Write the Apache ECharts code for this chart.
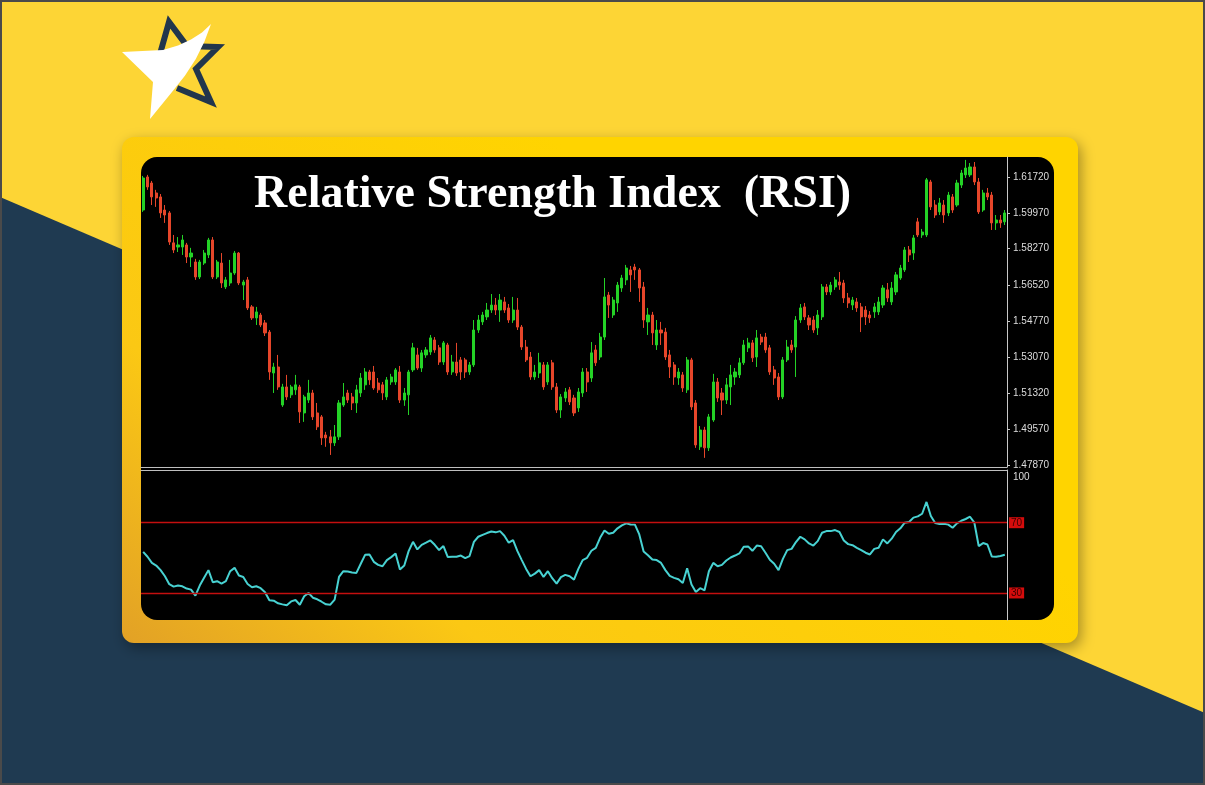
<!DOCTYPE html>
<html><head><meta charset="utf-8">
<script src="https://cdn.jsdelivr.net/npm/echarts@6.0.0/dist/echarts.min.js"></script>
<style>html,body{margin:0;padding:0;background:#fff;}#c{width:1205px;height:785px;}</style>
</head><body><div id="c"></div>
<script>
const titleText = 'Relative Strength Index  (RSI)';
const priceTicks = [1.4787, 1.4957, 1.5132, 1.5307, 1.5477, 1.5652, 1.5827, 1.5997, 1.6172];
const rsiLevels = [70, 30];
const rsiLabels = [100, 70, 30];
// [open, close, low, high]
const candles = [
[1.6013,1.6167,1.6004,1.6177],[1.6172,1.6124,1.6110,1.6182],[1.6143,1.6076,1.6037,1.6153],[1.6095,1.6071,1.6028,1.6110],[1.6076,1.5999,1.5975,1.6090],
[1.6013,1.5989,1.5951,1.6037],[1.5999,1.5859,1.5845,1.6008],[1.5855,1.5821,1.5806,1.5893],[1.5835,1.5845,1.5811,1.5883],[1.5835,1.5869,1.5797,1.5893],
[1.5845,1.5787,1.5758,1.5855],[1.5787,1.5806,1.5739,1.5831],[1.5763,1.5691,1.5677,1.5778],[1.5691,1.5763,1.5681,1.5773],[1.5758,1.5806,1.5749,1.5821],
[1.5797,1.5869,1.5782,1.5879],[1.5869,1.5691,1.5681,1.5883],[1.5691,1.5763,1.5681,1.5773],[1.5758,1.5662,1.5638,1.5806],[1.5643,1.5677,1.5633,1.5691],
[1.5662,1.5710,1.5648,1.5773],[1.5710,1.5806,1.5701,1.5816],[1.5806,1.5662,1.5652,1.5811],[1.5652,1.5667,1.5580,1.5677],[1.5677,1.5542,1.5532,1.5691],
[1.5547,1.5494,1.5484,1.5556],[1.5494,1.5523,1.5460,1.5547],[1.5508,1.5460,1.5450,1.5518],[1.5470,1.5422,1.5407,1.5484],[1.5426,1.5234,1.5196,1.5436],
[1.5229,1.5258,1.5133,1.5278],[1.5258,1.5162,1.5148,1.5316],[1.5075,1.5162,1.5066,1.5177],[1.5162,1.5114,1.5099,1.5220],[1.5124,1.5162,1.5109,1.5172],
[1.5148,1.5172,1.5124,1.5220],[1.5162,1.5042,1.4989,1.5172],[1.5037,1.5114,1.4994,1.5124],[1.5099,1.5133,1.5085,1.5196],[1.5133,1.5018,1.5003,1.5148],
[1.5037,1.4970,1.4955,1.5085],[1.5018,1.4917,1.4883,1.5027],[1.4931,1.4917,1.4874,1.4946],[1.4922,1.4893,1.4835,1.4955],[1.4893,1.4922,1.4878,1.4979],
[1.4922,1.5085,1.4907,1.5099],[1.5075,1.5114,1.5066,1.5181],[1.5133,1.5099,1.5085,1.5148],[1.5114,1.5085,1.5051,1.5133],[1.5085,1.5148,1.5037,1.5172],
[1.5133,1.5205,1.5114,1.5229],[1.5172,1.5234,1.5148,1.5253],[1.5234,1.5196,1.5172,1.5244],[1.5234,1.5157,1.5148,1.5263],[1.5181,1.5148,1.5133,1.5205],
[1.5172,1.5133,1.5099,1.5186],[1.5114,1.5196,1.5099,1.5210],[1.5186,1.5210,1.5172,1.5225],[1.5186,1.5244,1.5172,1.5253],[1.5234,1.5099,1.5085,1.5263],
[1.5099,1.5133,1.5071,1.5157],[1.5124,1.5234,1.5027,1.5244],[1.5244,1.5350,1.5234,1.5374],[1.5316,1.5253,1.5244,1.5350],[1.5253,1.5326,1.5234,1.5340],
[1.5316,1.5340,1.5302,1.5354],[1.5330,1.5398,1.5316,1.5412],[1.5388,1.5340,1.5326,1.5402],[1.5350,1.5282,1.5268,1.5364],[1.5282,1.5374,1.5268,1.5383],
[1.5364,1.5234,1.5220,1.5374],[1.5234,1.5282,1.5220,1.5316],[1.5282,1.5229,1.5215,1.5374],[1.5292,1.5234,1.5196,1.5306],[1.5292,1.5234,1.5205,1.5302],
[1.5234,1.5268,1.5220,1.5282],[1.5268,1.5436,1.5258,1.5484],[1.5436,1.5484,1.5422,1.5508],[1.5475,1.5508,1.5460,1.5523],[1.5499,1.5532,1.5484,1.5566],
[1.5532,1.5556,1.5518,1.5609],[1.5556,1.5532,1.5508,1.5590],[1.5532,1.5580,1.5475,1.5609],[1.5571,1.5532,1.5518,1.5595],[1.5542,1.5484,1.5470,1.5561],
[1.5484,1.5532,1.5470,1.5595],[1.5532,1.5450,1.5436,1.5590],[1.5450,1.5354,1.5340,1.5460],[1.5354,1.5292,1.5282,1.5388],[1.5306,1.5210,1.5196,1.5330],
[1.5210,1.5234,1.5196,1.5268],[1.5229,1.5278,1.5205,1.5326],[1.5268,1.5162,1.5148,1.5282],[1.5186,1.5268,1.5172,1.5282],[1.5278,1.5162,1.5148,1.5292],
[1.5162,1.5051,1.5037,1.5181],[1.5051,1.5114,1.5013,1.5128],[1.5109,1.5138,1.5090,1.5157],[1.5148,1.5090,1.5075,1.5162],[1.5109,1.5037,1.5022,1.5124],
[1.5061,1.5138,1.5042,1.5157],[1.5133,1.5234,1.5114,1.5253],[1.5234,1.5186,1.5138,1.5253],[1.5205,1.5326,1.5186,1.5378],[1.5340,1.5278,1.5263,1.5364],
[1.5306,1.5402,1.5292,1.5422],[1.5402,1.5595,1.5388,1.5686],[1.5604,1.5556,1.5494,1.5619],[1.5508,1.5580,1.5494,1.5595],[1.5566,1.5652,1.5523,1.5667],
[1.5638,1.5686,1.5619,1.5701],[1.5677,1.5734,1.5652,1.5749],[1.5725,1.5701,1.5619,1.5744],[1.5739,1.5725,1.5677,1.5754],[1.5725,1.5638,1.5571,1.5734],
[1.5643,1.5484,1.5446,1.5667],[1.5475,1.5508,1.5412,1.5542],[1.5508,1.5422,1.5364,1.5523],[1.5364,1.5436,1.5340,1.5484],[1.5436,1.5422,1.5364,1.5475],
[1.5426,1.5306,1.5292,1.5446],[1.5316,1.5258,1.5205,1.5340],[1.5268,1.5210,1.5172,1.5282],[1.5205,1.5234,1.5172,1.5253],[1.5220,1.5157,1.5138,1.5234],
[1.5148,1.5292,1.5133,1.5306],[1.5292,1.5066,1.5051,1.5302],[1.5085,1.4883,1.4869,1.5099],[1.4874,1.4955,1.4859,1.4974],[1.4955,1.4869,1.4821,1.4970],
[1.4869,1.5018,1.4854,1.5032],[1.5003,1.5186,1.4994,1.5225],[1.5186,1.5109,1.5090,1.5205],[1.5133,1.5099,1.5027,1.5157],[1.5099,1.5172,1.5080,1.5205],
[1.5162,1.5220,1.5075,1.5268],[1.5210,1.5234,1.5172,1.5253],[1.5220,1.5278,1.5205,1.5302],[1.5278,1.5364,1.5268,1.5388],[1.5350,1.5374,1.5330,1.5398],
[1.5374,1.5302,1.5282,1.5388],[1.5306,1.5398,1.5258,1.5436],[1.5402,1.5378,1.5364,1.5417],[1.5402,1.5340,1.5326,1.5422],[1.5350,1.5234,1.5220,1.5364],
[1.5244,1.5205,1.5172,1.5263],[1.5210,1.5114,1.5099,1.5229],[1.5114,1.5292,1.5104,1.5306],[1.5292,1.5354,1.5282,1.5388],[1.5364,1.5340,1.5326,1.5388],
[1.5354,1.5484,1.5210,1.5503],[1.5484,1.5542,1.5470,1.5561],[1.5547,1.5499,1.5484,1.5566],[1.5494,1.5460,1.5436,1.5508],[1.5484,1.5436,1.5422,1.5503],
[1.5446,1.5508,1.5412,1.5532],[1.5499,1.5643,1.5484,1.5657],[1.5643,1.5619,1.5604,1.5657],[1.5619,1.5652,1.5604,1.5667],[1.5643,1.5677,1.5629,1.5691],
[1.5667,1.5652,1.5629,1.5715],[1.5662,1.5590,1.5566,1.5677],[1.5590,1.5566,1.5542,1.5614],[1.5556,1.5580,1.5532,1.5595],[1.5571,1.5542,1.5523,1.5590],
[1.5547,1.5499,1.5426,1.5566],[1.5532,1.5499,1.5460,1.5551],[1.5508,1.5494,1.5470,1.5527],[1.5523,1.5547,1.5494,1.5566],[1.5523,1.5571,1.5508,1.5595],
[1.5556,1.5638,1.5542,1.5652],[1.5629,1.5590,1.5571,1.5662],[1.5571,1.5638,1.5556,1.5667],[1.5619,1.5701,1.5604,1.5715],[1.5686,1.5734,1.5677,1.5749],
[1.5725,1.5821,1.5715,1.5835],[1.5821,1.5797,1.5763,1.5840],[1.5806,1.5879,1.5773,1.5893],[1.5956,1.5893,1.5883,1.5975],[1.5893,1.5907,1.5879,1.5922],
[1.5893,1.6158,1.5883,1.6167],[1.6148,1.6028,1.6013,1.6158],[1.6037,1.5989,1.5975,1.6061],[1.6004,1.6047,1.5989,1.6071],[1.6037,1.5989,1.5951,1.6061],
[1.5999,1.6085,1.5984,1.6100],[1.6076,1.6013,1.5999,1.6090],[1.6037,1.6143,1.6028,1.6158],[1.6133,1.6191,1.6119,1.6206],[1.6182,1.6215,1.6167,1.6254],
[1.6182,1.6220,1.6172,1.6239],[1.6220,1.6148,1.6133,1.6244],[1.6148,1.6004,1.5994,1.6167],[1.6013,1.6095,1.6004,1.6110],[1.6095,1.6076,1.6061,1.6119],
[1.6085,1.5951,1.5917,1.6100],[1.5951,1.5965,1.5917,1.5989],[1.5965,1.5951,1.5927,1.5989],[1.5956,1.5999,1.5941,1.6013]
];
const rsi = [
53.4,50.6,47.1,45.6,43.0,39.5,35.0,33.6,34.2,33.8,
32.5,31.9,28.5,34.2,38.6,43.0,36.1,36.7,35.3,36.7,
42.4,44.3,39.9,39.1,35.1,33.2,33.8,32.7,30.4,25.8,
25.6,24.1,23.5,23.0,25.2,26.0,23.3,28.1,30.0,27.3,
26.4,25.0,23.5,23.3,26.2,39.1,42.4,42.2,41.6,41.4,
46.6,51.7,51.9,47.7,46.0,45.2,48.7,50.4,52.5,43.3,
45.6,53.8,59.1,54.8,57.4,58.6,59.9,57.4,54.4,56.7,
50.4,50.6,50.6,51.3,49.8,51.0,59.1,62.0,63.1,64.1,
65.0,64.5,65.2,62.6,58.6,60.1,53.8,48.7,43.7,39.5,
41.0,43.0,39.1,42.4,38.4,35.3,39.0,40.3,39.5,37.6,
43.7,48.7,50.0,54.0,55.7,61.4,65.6,63.7,64.3,66.8,
68.5,69.6,69.0,68.9,63.3,53.6,51.5,49.0,48.7,47.1,
43.0,39.7,38.6,37.8,35.7,44.1,34.8,30.6,32.7,31.5,
42.4,47.1,45.2,46.0,48.5,50.2,51.3,52.5,56.3,56.5,
54.0,57.0,56.6,52.9,48.9,46.6,43.0,49.4,54.4,55.1,
59.0,62.0,60.5,58.2,57.0,59.5,64.3,65.2,65.2,65.8,
64.7,59.9,57.8,57.2,55.7,54.4,52.9,51.9,55.1,55.7,
60.5,58.2,60.9,64.7,66.8,70.0,70.4,72.9,73.6,75.1,
81.8,73.8,69.8,69.2,69.4,68.9,67.1,69.6,71.1,72.1,
73.4,70.0,56.7,58.4,57.6,50.8,50.6,51.0,51.7
];
const categories = candles.map((_, i) => String(i + 1));

const chart = echarts.init(document.getElementById('c'), null, {renderer: 'canvas'});
const GREEN = '#24d226', RED = '#e6462a';
const labelColor = '#dcdcdc';
const option = {
  animation: false,
  graphic: [
    {type: 'rect', z: -20, shape: {x: 0, y: 0, width: 1205, height: 785}, style: {fill: '#fdd535'}},
    {type: 'polygon', z: -19, shape: {points: [[0, 197], [1205, 713], [1205, 785], [0, 785]]}, style: {fill: '#1f3a51'}},
    {type: 'rect', z: -18, shape: {x: 1, y: 1, width: 1203, height: 783}, style: {fill: 'none', stroke: '#4a4a4a', lineWidth: 2}},
    {type: 'polyline', z: -17, shape: {points: [[160, 54], [169, 22], [187, 46], [218, 47], [196, 69], [211, 102], [177, 88]]},
      style: {stroke: '#22364c', lineWidth: 6, lineJoin: 'miter', fill: 'none'}},
    {type: 'polygon', z: -16, shape: {points: [[122, 52], [163, 50], [178, 45.4], [191, 39.5], [202, 32.4], [211, 24], [204.4, 41.8], [195.8, 59], [184.9, 75.8], [172, 92], [150, 119], [153, 82]]},
      style: {fill: '#ffffff'}},
    {type: 'rect', z: -15, shape: {x: 122, y: 137, width: 956, height: 506, r: 12},
      style: {fill: new echarts.graphic.LinearGradient(0, 1, 0.45, 0, [
        {offset: 0, color: '#e2a126'}, {offset: 0.35, color: '#fbc814'}, {offset: 1, color: '#ffd400'}]),
        shadowBlur: 14, shadowColor: 'rgba(0,0,0,0.35)', shadowOffsetX: 3, shadowOffsetY: 5}},
    {type: 'rect', z: -14, shape: {x: 141, y: 157, width: 913, height: 463, r: 16}, style: {fill: '#000000'}},
    {type: 'text', z: 50, style: {x: 254, y: 195, text: titleText, fill: '#ffffff',
      font: 'bold 46px "Liberation Serif", "DejaVu Serif", serif', textAlign: 'left', textVerticalAlign: 'middle'}}
  ],
  grid: [
    {left: 141, top: 157, width: 866, height: 310, show: false},
    {left: 141, top: 470, width: 866, height: 150, show: false}
  ],
  xAxis: [
    {type: 'category', gridIndex: 0, data: categories, boundaryGap: true,
      axisLine: {show: true, lineStyle: {color: '#bfbfbf', width: 1}}, axisTick: {show: false}, axisLabel: {show: false}, splitLine: {show: false}},
    {type: 'category', gridIndex: 1, data: categories, boundaryGap: true, position: 'top',
      axisLine: {show: true, lineStyle: {color: '#bfbfbf', width: 1}}, axisTick: {show: false}, axisLabel: {show: false}, splitLine: {show: false}}
  ],
  yAxis: [
    {type: 'value', gridIndex: 0, position: 'right', min: 1.4777, max: 1.6268, scale: true,
      axisLine: {show: true, lineStyle: {color: '#c8c8c8', width: 1}},
      axisTick: {show: true, inside: false, length: 3, lineStyle: {color: '#c8c8c8'}, customValues: priceTicks},
      axisLabel: {show: true, customValues: priceTicks, formatter: v => v.toFixed(5), color: labelColor,
        fontSize: 10, fontFamily: '"Liberation Sans", Arial, sans-serif', margin: 6},
      splitLine: {show: false}},
    {type: 'value', gridIndex: 1, position: 'right', min: 14.6, max: 100,
      axisLine: {show: true, lineStyle: {color: '#c8c8c8', width: 1}},
      axisTick: {show: false},
      axisLabel: {show: true, customValues: rsiLabels, margin: 2,
        formatter: v => v === 100 ? '{w|100}' : '{r|' + v + '}',
        rich: {
          w: {color: labelColor, fontSize: 10, fontFamily: '"Liberation Sans", Arial, sans-serif', padding: [15, 0, 0, 4]},
          r: {color: '#3a0000', backgroundColor: '#d40c0c', fontSize: 10, fontFamily: '"Liberation Sans", Arial, sans-serif', padding: [1, 2, 0, 2]}
        }},
      splitLine: {show: false}}
  ],
  series: [
    {type: 'candlestick', name: 'Price', xAxisIndex: 0, yAxisIndex: 0, data: candles, barWidth: 2.6,
      itemStyle: {color: GREEN, color0: RED, borderColor: GREEN, borderColor0: RED, borderWidth: 1}},
    {type: 'line', name: 'RSI', xAxisIndex: 1, yAxisIndex: 1, data: rsi, showSymbol: false, symbol: 'none',
      lineStyle: {color: '#48d2d2', width: 2},
      markLine: {silent: true, symbol: ['none', 'none'], label: {show: false},
        lineStyle: {color: '#c40f0f', width: 1.4, type: 'solid', opacity: 1},
        data: rsiLevels.map(v => ({yAxis: v}))}}
  ]
};
chart.setOption(option);
</script></body></html>
